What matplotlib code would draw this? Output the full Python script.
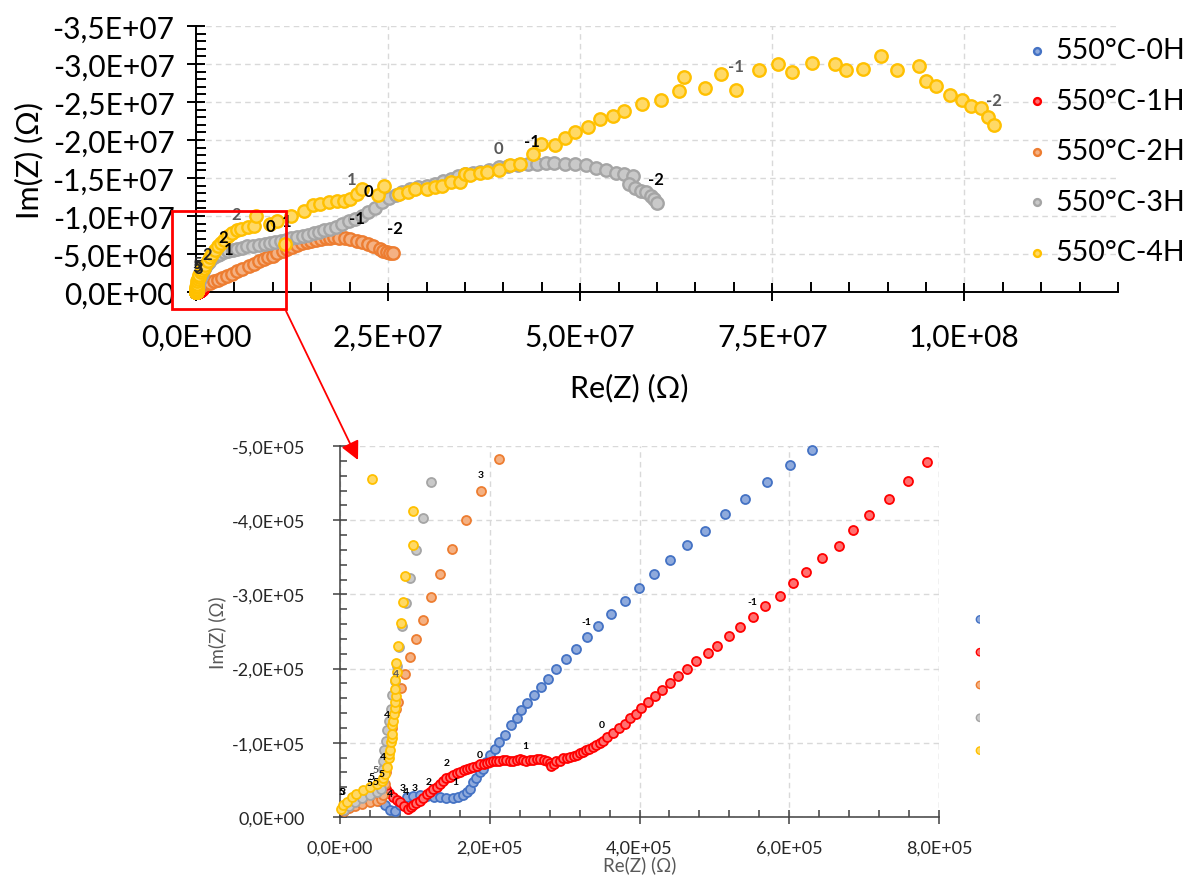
import numpy as np
import matplotlib
matplotlib.use("Agg")
import matplotlib.pyplot as plt
from matplotlib.ticker import MultipleLocator, FuncFormatter
from matplotlib.patches import Rectangle, FancyArrowPatch

plt.rcParams["font.family"] = ["Lato", "DejaVu Sans"]

# =========================
# Data (kOhm): Re(Z), -Im(Z)
# =========================
series_names = ["550°C-0H", "550°C-1H", "550°C-2H", "550°C-3H", "550°C-4H"]
edge_colors = ["#4472C4", "#FF0000", "#ED7D31", "#A5A5A5", "#FFC000"]
face_colors = ["#8FAADC", "#FF7070", "#F4B183", "#C9C9C9", "#FFD966"]

z_0h = [(10, 12), (20, 18), (30, 22), (40, 24), (48, 24), (53, 22), (60, 16), (67, 9), (73, 8),
        (80, 16), (89, 27), (98, 28), (107, 29), (116, 28), (125, 27), (133, 27), (142, 26),
        (151, 26), (158, 27), (164, 29), (169, 34), (173, 38), (178, 47), (182, 52), (187, 61),
        (191, 65), (195, 74), (200, 83), (207, 92), (213, 101), (220, 110), (229, 124),
        (236, 133), (242, 144), (250, 153), (259, 164), (268, 175), (278, 186), (289, 199),
        (302, 213), (315, 227), (330, 242), (345, 257), (362, 273), (381, 291), (399, 308),
        (419, 327), (441, 346), (463, 366), (487, 385), (514, 408), (541, 429), (570, 451),
        (601, 474), (631, 495), (665, 520), (700, 548)]

z_1h = [(62, 38), (66, 33), (71, 27), (76, 23), (80, 20), (85, 15), (91, 11), (95, 13), (98, 16),
        (102, 19), (107, 22), (111, 26), (116, 31), (120, 34), (124, 38), (129, 41), (133, 45),
        (138, 48), (142, 52), (147, 54), (151, 56), (156, 59), (160, 61), (165, 63), (169, 65),
        (174, 66), (178, 67), (183, 69), (187, 71), (192, 72), (196, 73), (200, 74), (204, 75),
        (209, 75), (213, 76), (218, 77), (222, 77), (227, 76), (231, 76), (236, 77), (240, 78),
        (245, 77), (249, 76), (254, 77), (258, 77), (263, 78), (267, 78), (272, 77), (276, 76),
        (280, 73), (282, 69), (286, 72), (289, 76), (294, 76), (298, 79), (303, 79), (307, 81),
        (312, 82), (316, 84), (320, 86), (324, 88), (329, 90), (333, 92), (338, 95), (342, 97),
        (347, 100), (351, 103), (357, 108), (364, 113), (373, 120), (380, 126), (387, 133),
        (395, 139), (402, 147), (411, 155), (421, 163), (430, 171), (441, 181), (452, 190),
        (464, 199), (476, 210), (491, 221), (504, 231), (520, 244), (534, 256), (551, 270),
        (568, 284), (587, 298), (605, 315), (622, 330), (644, 349), (667, 365), (685, 387),
        (706, 407), (733, 429), (759, 453), (784, 479), (810, 505), (835, 530)]

z_2h = [(5, 8), (12, 12), (20, 15), (30, 18), (40, 20), (50, 22), (55, 24), (58, 30), (60, 45),
        (62, 60), (64, 80), (66, 100), (70, 120), (75, 145), (78, 155), (82, 174), (87, 193),
        (93, 216), (101, 240), (111, 266), (122, 296), (134, 327), (150, 361), (168, 400),
        (188, 439), (212, 482), (240, 530), (280, 600), (330, 680), (400, 760), (500, 840),
        (650, 920), (850, 1000), (1100, 1080), (1400, 1160), (1800, 1250), (2300, 1400),
        (2800, 1600), (3400, 1850), (4000, 2100), (4700, 2400), (5300, 2700), (6000, 3000),
        (6900, 3450), (7600, 3750), (8200, 4050), (8800, 4300), (9400, 4550), (10000, 4800),
        (10600, 5100), (11300, 5400), (11900, 5700), (12500, 5950), (13200, 6200),
        (13800, 6400), (14400, 6550), (15000, 6700), (15600, 6850), (16300, 6950),
        (16900, 7050), (17500, 7150), (18000, 7200), (18600, 7150), (19400, 7100),
        (20100, 6950), (20900, 6750), (21600, 6550), (22400, 6300), (23100, 6000),
        (23900, 5700), (24400, 5450), (24900, 5300), (25300, 5150), (25600, 5100)]

z_3h = [(5, 10), (12, 15), (20, 20), (30, 25), (40, 30), (50, 34), (55, 38), (57, 50), (57, 65),
        (58, 76), (59, 90), (61, 103), (63, 117), (65, 130), (68, 146), (70, 164), (73, 183),
        (76, 204), (79, 229), (83, 257), (88, 289), (93, 322), (101, 360), (111, 403), (121, 451),
        (135, 520), (150, 600), (170, 700), (200, 850), (240, 1000), (290, 1200), (350, 1400),
        (420, 1600), (500, 1850), (600, 2100), (720, 2400), (850, 2700), (1000, 3000),
        (1200, 3350), (1400, 3700), (1700, 4000), (2000, 4300), (2400, 4600), (2800, 4850),
        (3100, 5000), (3700, 5200), (4200, 5400), (4800, 5550), (5300, 5700), (6000, 5850),
        (6700, 6000), (7400, 6100), (8200, 6250), (9000, 6350), (9600, 6450), (10300, 6600),
        (11000, 6750), (11700, 6900), (12400, 7050), (13100, 7200), (13900, 7350),
        (14600, 7500), (15300, 7700), (16000, 7950), (16700, 8150), (17400, 8350),
        (18200, 8600), (19000, 8900), (19900, 9300), (20700, 9650), (21600, 10000),
        (22400, 10500), (23300, 11100), (24200, 11800), (25100, 12400), (26000, 12800),
        (26800, 13100), (27800, 13500), (28900, 13800), (30000, 14000), (31100, 14200),
        (32100, 14550), (33200, 14900), (34100, 15200), (35000, 15500), (36000, 15700),
        (36900, 15850), (38100, 16100), (39400, 16400), (40600, 16550), (41900, 16700),
        (43200, 16800), (44400, 16900), (45500, 16950), (46600, 17000), (48000, 16800),
        (49300, 16800), (50800, 16700), (52100, 16300), (53400, 16000), (54600, 15700),
        (55700, 15500), (56900, 15200), (56400, 14200), (57100, 13700), (57900, 13300),
        (58600, 13200), (59200, 12600), (59600, 12300), (60000, 11700)]

z_4h = [(2, 11), (4, 16), (9, 20), (16, 27), (22, 31), (31, 36), (40, 40), (49, 45), (56, 49),
        (58, 52), (60, 58), (63, 67), (65, 79), (66, 85), (67, 90), (68, 101), (69, 107),
        (69, 112), (70, 124), (71, 130), (72, 139), (73, 147), (74, 155), (75, 163), (73, 173),
        (74, 184), (76, 195), (75, 207), (78, 231), (81, 262), (84, 290), (87, 325), (97, 366),
        (98, 412), (43, 455), (60, 600), (80, 800), (120, 1100), (180, 1400), (250, 1700),
        (350, 2000), (450, 2300), (600, 2600), (800, 2900), (1000, 3200), (1200, 3600),
        (1500, 4100), (1800, 4600), (2100, 5000), (2500, 5500), (2900, 6000), (3300, 6500),
        (3700, 6900), (4200, 7400), (4700, 7800), (5300, 8100), (5900, 8300), (6800, 8500),
        (7600, 8700), (7800, 10000), (9600, 8900), (10600, 9400), (11600, 6300),
        (12400, 10000), (14100, 10700), (15200, 11400), (16200, 11600), (17300, 11800),
        (18400, 12000), (19300, 12000), (20100, 12300), (21000, 12900), (21600, 13600),
        (23700, 12700), (24500, 13900), (26400, 12900), (27600, 13200), (28500, 13500),
        (30000, 13600), (31100, 13800), (32000, 14000), (33200, 14500), (34400, 14500),
        (35000, 15500), (35700, 15400), (36900, 15600), (37900, 15800), (39400, 16000),
        (40900, 16700), (42200, 16900), (43900, 18200), (44900, 19500), (46700, 19300),
        (48000, 20200), (49300, 21000), (51000, 21700), (52600, 22800), (54300, 23200),
        (55700, 23800), (58100, 24800), (60500, 25300), (62900, 26400), (63500, 28300),
        (66300, 26900), (68300, 28700), (70300, 26600), (73300, 29200), (75800, 30000),
        (77600, 29000), (80200, 30100), (83200, 30000), (84600, 29200), (86800, 29300),
        (89200, 31000), (91300, 29200), (94100, 29700), (95000, 27700), (96300, 27100),
        (98100, 25900), (99700, 25300), (100900, 24500), (102200, 24200), (103100, 23000),
        (103800, 22000)]

all_series = [z_0h, z_1h, z_2h, z_3h, z_4h]

# decade labels, (text, Re, -Im) in MOhm for the main plot
main_labels = [("1", 20.2, 14.9, "#595959"), ("0", 22.4, 13.3, "black"),
               ("2", 5.2, 10.2, "#595959"), ("0", 9.7, 8.7, "black"), ("1", 11.8, 9.3, "black"),
               ("2", 3.6, 7.3, "black"), ("1", 4.3, 5.7, "black"), ("-1", 20.9, 9.7, "black"),
               ("-2", 25.9, 8.4, "black"), ("0", 39.4, 19.0, "#595959"),
               ("-1", 43.7, 19.9, "black"), ("-1", 70.3, 29.7, "#595959"),
               ("-2", 103.8, 25.3, "#595959"), ("-2", 59.9, 14.9, "black"),
               ("2", 1.4, 5.0, "#262626"), ("5", 0.1, 3.8, "#262626"),
               ("3", 0.3, 3.1, "#262626"), ("5", 0.2, 3.4, "#262626")]

# decade labels for the zoom, (text, Re, -Im) in kOhm
zoom_labels = [("3", 188, 461, "black"), ("-1", 329, 264, "black"), ("0", 349, 124, "black"),
               ("-1", 551, 291, "black"), ("4", 75, 193, "#595959"), ("4", 63, 138, "black"),
               ("4", 58, 81, "black"), ("5", 47, 64, "#595959"), ("5", 42, 55, "black"),
               ("5", 55, 58, "black"), ("5", 40, 47, "black"), ("5", 47, 48, "black"),
               ("1", 248, 97, "black"), ("0", 187, 84, "black"), ("2", 142, 73, "black"),
               ("2", 118, 48, "black"), ("1", 154, 48, "black"), ("3", 84, 40, "black"),
               ("3", 100, 40, "black"), ("4", 67, 31, "black"), ("4", 88, 34, "black"),
               ("5", 2, 34, "black"), ("3", 3, 35, "black")]


def sci_comma(v, pos):
    if abs(v) < 1e-9:
        return "0,0E+00"
    return f"{v:.1E}".replace(".", ",")


def style_axis(ax, axis_color, lw, major_len, minor_len):
    for side in ("top", "right"):
        ax.spines[side].set_visible(False)
    for side in ("left", "bottom"):
        ax.spines[side].set_color(axis_color)
        ax.spines[side].set_linewidth(lw)
    ax.tick_params(which="major", direction="inout", length=major_len, width=lw, color=axis_color)
    ax.tick_params(which="minor", direction="in", length=minor_len, width=lw, color=axis_color)
    ax.xaxis.set_major_formatter(FuncFormatter(sci_comma))
    ax.yaxis.set_major_formatter(FuncFormatter(sci_comma))
    ax.grid(True, which="major", linestyle=(0, (4, 3)), color="#D9D9D9", linewidth=1.0)
    ax.set_axisbelow(True)


W, H = 1188, 887
fig = plt.figure(figsize=(W / 100, H / 100), dpi=100)


def px_box(left, top, right, bottom):
    return [left / W, 1 - bottom / H, (right - left) / W, (bottom - top) / H]


# =========================
# Main plot
# =========================
ax = fig.add_axes(px_box(196, 27, 1118, 293))
style_axis(ax, "black", 1.4, 13, 7)
for z, ec, fc, name in zip(all_series, edge_colors, face_colors, series_names):
    z = np.asarray(z, dtype=float) * 1e3
    ax.scatter(z[:, 0], -z[:, 1], s=80, facecolor=fc, edgecolor=ec, linewidth=1.7,
               clip_on=False, zorder=3, label=name)
for txt, x, y, c in main_labels:
    ax.text(x * 1e6, -y * 1e6, txt, fontsize=12, fontweight="bold", color=c,
            ha="center", va="center", zorder=5, clip_on=False)
ax.set_xlim(0, 1.2e8)
ax.set_ylim(0, -3.5e7)
ax.xaxis.set_major_locator(MultipleLocator(2.5e7))
ax.xaxis.set_minor_locator(MultipleLocator(5e6))
ax.yaxis.set_major_locator(MultipleLocator(5e6))
ax.yaxis.set_minor_locator(MultipleLocator(1e6))
ax.tick_params(axis="both", which="major", labelsize=21.5)
ax.tick_params(axis="x", which="major", pad=16)
ax.tick_params(axis="y", which="major", pad=9)
ax.set_xlabel("Re(Z) (Ω)", fontsize=22)
ax.set_ylabel("Im(Z) (Ω)", fontsize=22)
ax.xaxis.set_label_coords(0.47, -0.305)
ax.yaxis.set_label_coords(-0.165, 0.5)

leg = fig.legend(loc="upper left", bbox_to_anchor=(1011 / W, 1 - 27 / H), frameon=False,
                 fontsize=20.5, handletextpad=0.15, labelspacing=0.86, borderaxespad=0,
                 handlelength=1.0, markerscale=0.55)

# =========================
# Zoomed plot
# =========================
ax2 = fig.add_axes(px_box(340, 447, 939, 818))
style_axis(ax2, "#404040", 1.1, 10, 5)
for z, ec, fc in zip(all_series, edge_colors, face_colors):
    z = np.asarray(z, dtype=float) * 1e3
    keep = (z[:, 0] <= 8e5) & (z[:, 1] <= 5e5)
    ax2.scatter(z[keep, 0], -z[keep, 1], s=42, facecolor=fc, edgecolor=ec, linewidth=1.3,
                clip_on=False, zorder=3)
for txt, x, y, c in zoom_labels:
    ax2.text(x * 1e3, -y * 1e3, txt, fontsize=7.5, fontweight="bold", color=c,
             ha="center", va="center", zorder=5)
ax2.set_xlim(0, 8e5)
ax2.set_ylim(0, -5e5)
ax2.xaxis.set_major_locator(MultipleLocator(2e5))
ax2.xaxis.set_minor_locator(MultipleLocator(4e4))
ax2.yaxis.set_major_locator(MultipleLocator(1e5))
ax2.yaxis.set_minor_locator(MultipleLocator(2e4))
ax2.tick_params(axis="both", which="major", labelsize=13, labelcolor="#262626")
ax2.tick_params(axis="x", which="major", pad=11)
ax2.tick_params(axis="y", which="major", pad=20)
ax2.set_xlabel("Re(Z) (Ω)", fontsize=13.5, color="#595959", labelpad=0)
ax2.set_ylabel("Im(Z) (Ω)", fontsize=13.5, color="#595959", labelpad=4)
ax2.axvline(8e5, color="#D9D9D9", linestyle=(0, (4, 3)), linewidth=1.0, zorder=0)

# clipped legend dots of the zoomed chart
ax3 = fig.add_axes(px_box(960, 604, 980, 768))
ax3.set_xlim(0, 1)
ax3.set_ylim(4.5, -0.5)
ax3.axis("off")
ax3.scatter(np.ones(5), np.arange(5), s=28, facecolor=face_colors, edgecolor=edge_colors,
            linewidth=1.0, clip_on=True)

# red selection box and arrow
fig.add_artist(Rectangle((172 / W, 1 - 310 / H), (286 - 172) / W, (310 - 212) / H,
                         transform=fig.transFigure, fill=False, edgecolor="red", linewidth=2.0,
                         zorder=10))
fig.add_artist(FancyArrowPatch((286 / W, 1 - 312 / H), (358 / W, 1 - 461 / H),
                               transform=fig.transFigure, arrowstyle="-|>", mutation_scale=28,
                               color="red", linewidth=1.3, shrinkA=0, shrinkB=0, zorder=10))

fig.savefig("out.png", dpi=100)
